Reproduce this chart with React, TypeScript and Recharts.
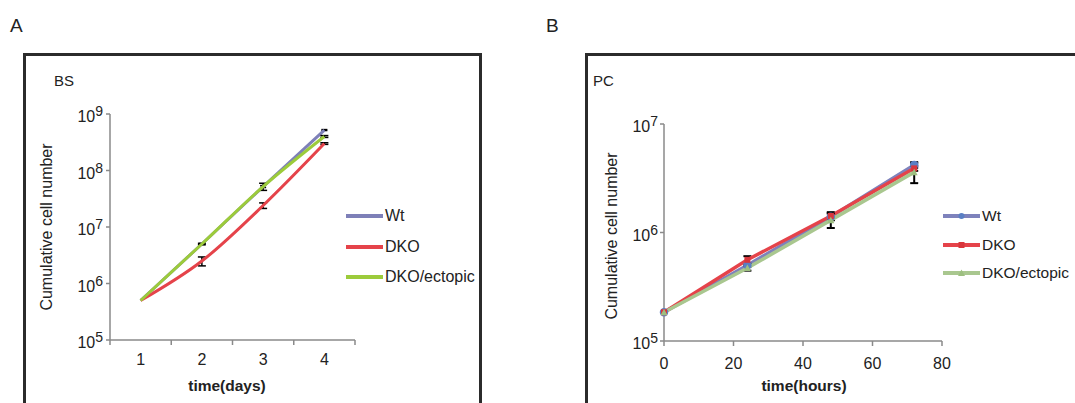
import { LineChart, Line, XAxis, YAxis, ErrorBar, Legend } from 'recharts';

const FONT = '"Liberation Sans", Arial, sans-serif';
const AXIS = '#8a8a8a';
const INK = '#222';

// series names + colours (legend order)
const seriesNames = ['Wt', 'DKO', 'DKO/ectopic'];
const bsColors = ['#7e80b8', '#e5434a', '#9ccb3b'];
const pcColors = ['#7e82bc', '#e5434a', '#a9c78f'];

// Panel A: BS, cumulative cells per day
const bsDays = [1, 2, 3, 4];
const bsWt = [5e5, 5e6, 5.2e7, 5.2e8];
const bsDko = [5e5, 2.5e6, 2.4e7, 3e8];
const bsEctopic = [5e5, 5e6, 5.2e7, 4e8];
const bsWtErr = [0, 0.1e6, 0.2e7, 0.1e8];
const bsDkoErr = [0, 0.45e6, 0.27e7, 0.1e8];
const bsEctopicErr = [0, 0.15e6, 0.75e7, 0.15e8];
const bsYTicks = [1e5, 1e6, 1e7, 1e8, 1e9];
const bsXTicks = [0.5, 1, 1.5, 2, 2.5, 3, 3.5, 4, 4.5];

// Panel B: PC, cumulative cells per hour
const pcHours = [0, 24, 48, 72];
const pcWt = [1.84e5, 5e5, 1.4e6, 4.2e6];
const pcDko = [1.84e5, 5.6e5, 1.42e6, 3.9e6];
const pcEctopic = [1.84e5, 4.7e5, 1.3e6, 3.6e6];
const pcWtErr = [0, 0.2e5, 0.1e6, 0.25e6];
const pcDkoErr = [0, 0.45e5, 0.12e6, 0.2e6];
const pcEctopicErr = [0, 0.25e5, 0.2e6, 0.75e6];
const pcYTicks = [1e5, 1e6, 1e7];
const pcXTicks = [0, 20, 40, 60, 80];

const bsRows = bsDays.map((day, i) => ({
  day,
  wt: bsWt[i], dko: bsDko[i], ectopic: bsEctopic[i],
  wtErr: bsWtErr[i], dkoErr: bsDkoErr[i], ectopicErr: bsEctopicErr[i],
}));

const pcRows = pcHours.map((hour, i) => ({
  hour,
  wt: pcWt[i], dko: pcDko[i], ectopic: pcEctopic[i],
  wtErr: pcWtErr[i], dkoErr: pcDkoErr[i], ectopicErr: pcEctopicErr[i],
}));

// 10^n labels on log axes
function PowerTick(props: any) {
  const { x, y, payload } = props;
  const exp = Math.round(Math.log10(payload.value));
  return (
    <text x={x} y={y + 8} textAnchor="end" fontSize={16} fill={INK} fontFamily={FONT}>
      10<tspan dy={-6} fontSize={14}>{exp}</tspan>
    </text>
  );
}

// day axis: labels at category centres, tick marks at boundaries
function DayTick(props: any) {
  const { x, y, payload } = props;
  const axisY = y - 8;
  if (Number.isInteger(payload.value)) {
    return (
      <text x={x} y={axisY + 25} textAnchor="middle" fontSize={16} fill={INK} fontFamily={FONT}>
        {payload.value}
      </text>
    );
  }
  return <line x1={x} x2={x} y1={axisY} y2={axisY + 5} stroke={AXIS} strokeWidth={1.5} />;
}

function HourTick(props: any) {
  const { x, y, payload } = props;
  // y = axis + tickSize(5) + tickMargin(4)
  return (
    <text x={x} y={y + 19} textAnchor="middle" fontSize={16} fill={INK} fontFamily={FONT}>
      {payload.value}
    </text>
  );
}

function SquareDot(props: any) {
  const { cx, cy } = props;
  if (cx == null || cy == null) return null;
  return <rect x={cx - 3} y={cy - 3} width={6} height={6} fill="#d9363c" />;
}

function TriangleDot(props: any) {
  const { cx, cy } = props;
  if (cx == null || cy == null) return null;
  return <path d={`M${cx},${cy - 3.5}L${cx + 3.5},${cy + 3}L${cx - 3.5},${cy + 3}Z`} fill="#9dbf80" />;
}

function makeLegend(colors: string[], rowH: number, fontSize: number, markers: boolean) {
  return (props: any) => {
    const items = [...(props.payload || [])].sort(
      (a: any, b: any) => seriesNames.indexOf(a.value) - seriesNames.indexOf(b.value)
    );
    return (
      <div style={{ fontFamily: FONT, fontSize, color: INK }}>
        {items.map((it: any) => {
          const idx = seriesNames.indexOf(it.value);
          return (
            <div key={it.value} style={{ height: rowH, display: 'flex', alignItems: 'center', whiteSpace: 'nowrap' }}>
              <svg width={37} height={10} style={{ display: 'block', marginRight: 2 }}>
                <line x1={0} x2={37} y1={5} y2={5} stroke={colors[idx]} strokeWidth={4} />
                {markers && idx === 0 && <circle cx={18.5} cy={5} r={3} fill="#5a7fc4" />}
                {markers && idx === 1 && <rect x={15.5} y={2} width={6} height={6} fill="#d9363c" />}
                {markers && idx === 2 && <path d="M18.5,1.5L22,8L15,8Z" fill="#9dbf80" />}
              </svg>
              <span>{it.value}</span>
            </div>
          );
        })}
      </div>
    );
  };
}

const textBase: any = { position: 'absolute', fontFamily: FONT, lineHeight: 1, whiteSpace: 'nowrap', color: INK };

function VLabel({ cx, cy, children }: any) {
  return (
    <div style={{ ...textBase, left: cx, top: cy, fontSize: 16, transform: 'translate(-50%, -50%) rotate(-90deg)' }}>
      {children}
    </div>
  );
}

export default function App() {
  return (
    <div style={{ position: 'absolute', left: 0, top: 0, width: 1075, height: 403, overflow: 'hidden', background: '#fff', fontFamily: FONT }}>
      {/* panel frames */}
      <div style={{ position: 'absolute', left: 23, top: 53, width: 459, height: 400, border: '3px solid #2b2b2b', boxSizing: 'border-box' }} />
      <div style={{ position: 'absolute', left: 585, top: 53, width: 520, height: 400, border: '3px solid #2b2b2b', boxSizing: 'border-box' }} />

      <div style={{ ...textBase, left: 10, top: 15.5, fontSize: 19 }}>A</div>
      <div style={{ ...textBase, left: 546, top: 15.5, fontSize: 19 }}>B</div>
      <div style={{ ...textBase, left: 54, top: 73, fontSize: 15 }}>BS</div>
      <div style={{ ...textBase, left: 593, top: 73, fontSize: 15 }}>PC</div>

      <div style={{ position: 'absolute', left: 0, top: 0 }}>
        <LineChart width={540} height={403} data={bsRows} margin={{ top: 114, right: 185, bottom: 33, left: 50 }}>
          <XAxis
            type="number"
            dataKey="day"
            domain={[0.5, 4.5]}
            ticks={bsXTicks}
            interval={0}
            tickLine={false}
            tickSize={6}
            tickMargin={2}
            height={30}
            axisLine={{ stroke: AXIS, strokeWidth: 1.5 }}
            tick={<DayTick />}
          />
          <YAxis
            scale="log"
            domain={[1e5, 1e9]}
            ticks={bsYTicks}
            interval={0}
            width={60}
            tickSize={4}
            tickMargin={3}
            allowDataOverflow
            axisLine={{ stroke: AXIS, strokeWidth: 1.5 }}
            tickLine={{ stroke: AXIS, strokeWidth: 1.5 }}
            tick={<PowerTick />}
          />
          <Line name="Wt" type="monotone" dataKey="wt" stroke={bsColors[0]} strokeWidth={3} dot={false} isAnimationActive={false}>
            <ErrorBar dataKey="wtErr" width={3} stroke="#000" strokeWidth={1.5} isAnimationActive={false} />
          </Line>
          <Line name="DKO" type="monotone" dataKey="dko" stroke={bsColors[1]} strokeWidth={3} dot={false} isAnimationActive={false}>
            <ErrorBar dataKey="dkoErr" width={4} stroke="#000" strokeWidth={1.5} isAnimationActive={false} />
          </Line>
          <Line name="DKO/ectopic" type="monotone" dataKey="ectopic" stroke={bsColors[2]} strokeWidth={3} dot={false} isAnimationActive={false}>
            <ErrorBar dataKey="ectopicErr" width={4} stroke="#000" strokeWidth={1.5} isAnimationActive={false} />
          </Line>
          <Legend
            layout="vertical"
            align="center"
            verticalAlign="middle"
            wrapperStyle={{ left: 346, top: 201 }}
            content={makeLegend(bsColors, 30.5, 16, false)}
          />
        </LineChart>
      </div>

      <div style={{ position: 'absolute', left: 540, top: 0 }}>
        <LineChart width={535} height={403} data={pcRows} margin={{ top: 124, right: 133, bottom: 32, left: 64 }}>
          <XAxis
            type="number"
            dataKey="hour"
            domain={[0, 80]}
            ticks={pcXTicks}
            interval={0}
            tickSize={5}
            tickMargin={4}
            height={30}
            axisLine={{ stroke: AXIS, strokeWidth: 1.5 }}
            tickLine={{ stroke: AXIS, strokeWidth: 1.5 }}
            tick={<HourTick />}
          />
          <YAxis
            scale="log"
            domain={[1e5, 1e7]}
            ticks={pcYTicks}
            interval={0}
            width={60}
            tickSize={4}
            tickMargin={2}
            allowDataOverflow
            axisLine={{ stroke: AXIS, strokeWidth: 1.5 }}
            tickLine={{ stroke: AXIS, strokeWidth: 1.5 }}
            tick={<PowerTick />}
          />
          <Line name="Wt" type="linear" dataKey="wt" stroke={pcColors[0]} strokeWidth={3.5}
            dot={{ r: 2.5, fill: '#5a7fc4', stroke: '#5a7fc4' }} isAnimationActive={false}>
            <ErrorBar dataKey="wtErr" width={4} stroke="#000" strokeWidth={2} isAnimationActive={false} />
          </Line>
          <Line name="DKO" type="linear" dataKey="dko" stroke={pcColors[1]} strokeWidth={3.5}
            dot={<SquareDot />} isAnimationActive={false}>
            <ErrorBar dataKey="dkoErr" width={4} stroke="#000" strokeWidth={2} isAnimationActive={false} />
          </Line>
          <Line name="DKO/ectopic" type="linear" dataKey="ectopic" stroke={pcColors[2]} strokeWidth={3.5}
            dot={<TriangleDot />} isAnimationActive={false}>
            <ErrorBar dataKey="ectopicErr" width={4} stroke="#000" strokeWidth={2} isAnimationActive={false} />
          </Line>
          <Legend
            layout="vertical"
            align="center"
            verticalAlign="middle"
            wrapperStyle={{ left: 403, top: 201.75 }}
            content={makeLegend(pcColors, 28.5, 15.5, true)}
          />
        </LineChart>
      </div>

      <VLabel cx={46.5} cy={226.5}>Cumulative cell number</VLabel>
      <VLabel cx={611.5} cy={236}>Cumulative cell number</VLabel>
      <div style={{ ...textBase, left: 227, top: 378, fontSize: 15.5, fontWeight: 'bold', transform: 'translateX(-50%)' }}>time(days)</div>
      <div style={{ ...textBase, left: 804, top: 378, fontSize: 15.5, fontWeight: 'bold', transform: 'translateX(-50%)' }}>time(hours)</div>
    </div>
  );
}
